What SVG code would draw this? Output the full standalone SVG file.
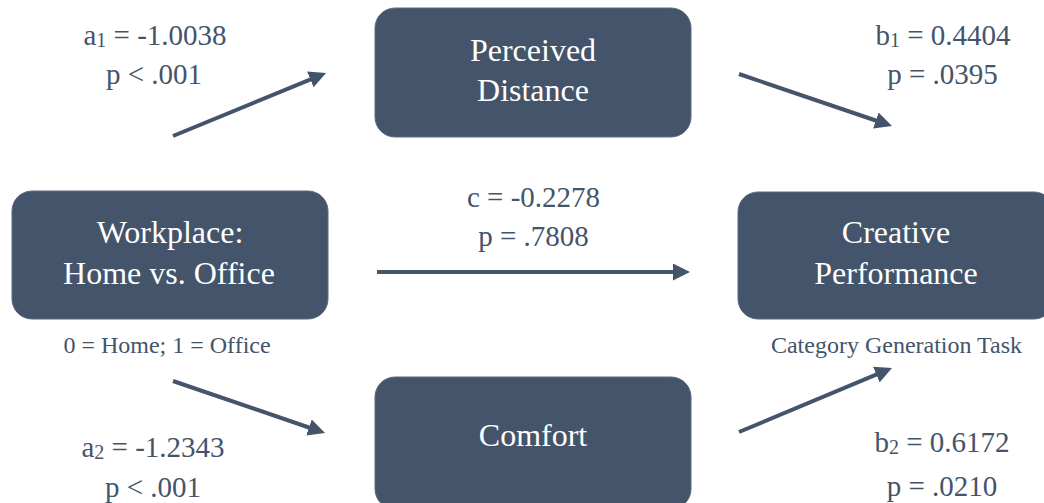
<svg xmlns="http://www.w3.org/2000/svg" width="1044" height="503" viewBox="0 0 1044 503">
  <style>
    .box { fill: #44546A; stroke: #5a6a80; stroke-width: 1; }
    .node-text { font-size: 32px; fill: #ffffff; text-anchor: middle; }
    .coef { font-size: 29px; fill: #44546A; text-anchor: middle; }
    .note { font-size: 24px; fill: #44546A; text-anchor: middle; }
    .sub { font-size: 20px; }
    .path-line { stroke: #44546A; stroke-width: 4; fill: none; marker-end: url(#arrow); }
  </style>
  <defs>
    <marker id="arrow" markerUnits="userSpaceOnUse" markerWidth="17" markerHeight="17" refX="3" refY="8.5" orient="auto">
      <path d="M0,0 L17,8.5 L0,17 z" fill="#44546A"/>
    </marker>
  </defs>

  <rect width="1044" height="503" fill="#ffffff"/>

  <!-- Connectors -->
  <g id="connectors">
    <line class="path-line" x1="173" y1="136" x2="313.1" y2="78.3"/>
    <line class="path-line" x1="739" y1="74" x2="878.7" y2="121.5"/>
    <line class="path-line" x1="377" y1="272" x2="676" y2="272"/>
    <line class="path-line" x1="173" y1="381" x2="311.8" y2="428.5"/>
    <line class="path-line" x1="739" y1="432" x2="879.1" y2="373.4"/>
  </g>

  <g font-family="Liberation Serif, Times New Roman, serif">
    <!-- Nodes -->
    <g id="perceived-distance">
      <rect class="box" x="375" y="8" width="316" height="129" rx="20" ry="20"/>
      <text class="node-text" x="533" y="61">Perceived</text>
      <text class="node-text" x="533" y="101">Distance</text>
    </g>

    <g id="workplace">
      <rect class="box" x="12" y="191" width="316" height="128" rx="20" ry="20"/>
      <text class="node-text" x="170" y="243">Workplace:</text>
      <text class="node-text" x="169" y="284">Home vs. Office</text>
      <text class="note" x="167" y="353">0 = Home; 1 = Office</text>
    </g>

    <g id="creative-performance">
      <rect class="box" x="738" y="192" width="316" height="127" rx="20" ry="20"/>
      <text class="node-text" x="896" y="243">Creative</text>
      <text class="node-text" x="896" y="284">Performance</text>
      <text class="note" x="896.5" y="353">Category Generation Task</text>
    </g>

    <g id="comfort">
      <rect class="box" x="375" y="377" width="316" height="132" rx="20" ry="20"/>
      <text class="node-text" x="533" y="446">Comfort</text>
    </g>

    <!-- Path coefficients -->
    <g id="labels">
      <text class="coef" x="155" y="45">a<tspan class="sub" dy="2">1</tspan><tspan dy="-2"> = -1.0038</tspan></text>
      <text class="coef" x="154" y="84">p &lt; .001</text>

      <text class="coef" x="943" y="45">b<tspan class="sub" dy="2">1</tspan><tspan dy="-2"> = 0.4404</tspan></text>
      <text class="coef" x="942.5" y="84">p = .0395</text>

      <text class="coef" x="533.5" y="207">c = -0.2278</text>
      <text class="coef" x="533.5" y="246">p = .7808</text>

      <text class="coef" x="153" y="457">a<tspan class="sub" dy="2">2</tspan><tspan dy="-2"> = -1.2343</tspan></text>
      <text class="coef" x="153" y="497">p &lt; .001</text>

      <text class="coef" x="942" y="452">b<tspan class="sub" dy="2">2</tspan><tspan dy="-2"> = 0.6172</tspan></text>
      <text class="coef" x="942" y="496">p = .0210</text>
    </g>
  </g>
</svg>
